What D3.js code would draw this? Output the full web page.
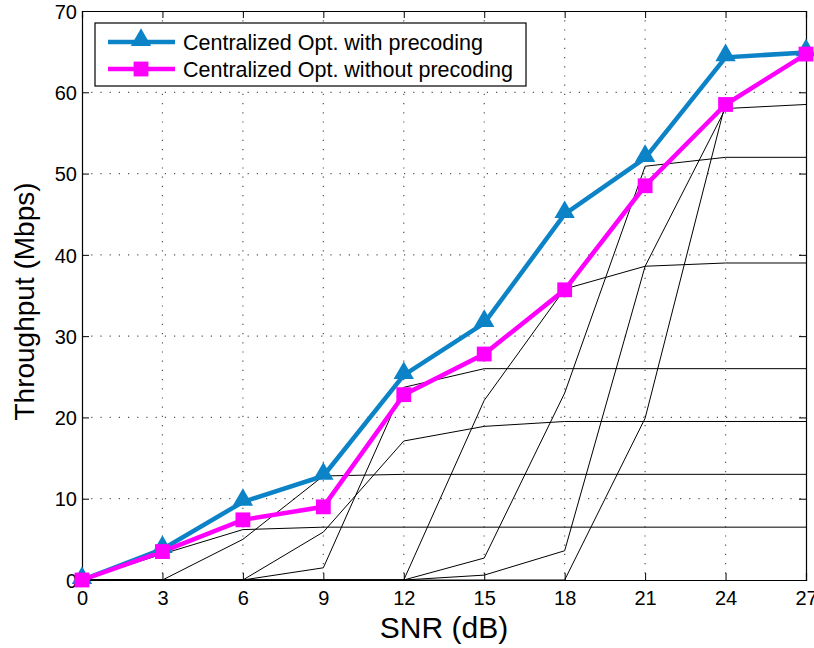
<!DOCTYPE html>
<html>
<head>
<meta charset="utf-8">
<script src="https://cdn.jsdelivr.net/npm/d3@7"></script>
<style>
  body { margin: 0; background: #fff; }
  svg { display: block; font-family: "Liberation Sans", Arial, sans-serif; }
</style>
</head>
<body>
<div id="viz"></div>
<script>
// SNR points (dB)
var snr = [0, 3, 6, 9, 12, 15, 18, 21, 24, 27];

// main series
var withPrecoding    = [0, 3.8, 9.6, 12.8, 25.2, 31.6, 45.0, 51.9, 64.3, 64.9];
var withoutPrecoding = [0, 3.5, 7.4, 9.0, 22.8, 27.8, 35.7, 48.5, 58.5, 64.7];

// per-MCS throughput curves (thin black lines)
var mcs0 = [0, 3.2, 6.2, 6.5, 6.5, 6.5, 6.5, 6.5, 6.5, 6.5];
var mcs1 = [0, 0, 5.0, 12.8, 13, 13, 13, 13, 13, 13];
var mcs2 = [0, 0, 0, 5.9, 17.1, 18.9, 19.5, 19.5, 19.5, 19.5];
var mcs3 = [0, 0, 0, 1.5, 23.7, 26, 26, 26, 26, 26];
var mcs4 = [0, 0, 0, 0, 0, 22.1, 35.8, 38.6, 39, 39];
var mcs5 = [0, 0, 0, 0, 0, 2.7, 23.0, 50.9, 52, 52];
var mcs6 = [0, 0, 0, 0, 0, 0.6, 3.6, 38.6, 58.0, 58.5];
var mcs7 = [0, 0, 0, 0, 0, 0, 0, 19.9, 58.7, 64.8];

var xTicks = [0, 3, 6, 9, 12, 15, 18, 21, 24, 27];
var yTicks = [0, 10, 20, 30, 40, 50, 60, 70];
var legendLabels = ['Centralized Opt. with precoding', 'Centralized Opt. without precoding'];

var width = 814,
    height = 648,
    padL = 82,
    padR = 806,
    padT = 11,
    padB = 580,
    blue = '#0b83c6',
    pink = '#ff00ff';

var x = d3.scaleLinear().domain([0, 27]).range([padL, padR]);
var y = d3.scaleLinear().domain([0, 70]).range([padB, padT]);

var svg = d3.select('#viz').append('svg')
    .attr('width', width)
    .attr('height', height);

// dotted grid
svg.append('g').selectAll('line').data(xTicks.slice(1, -1))
    .enter().append('line')
    .attr('x1', function(d){ return x(d); })
    .attr('x2', function(d){ return x(d); })
    .attr('y1', padT).attr('y2', padB)
    .attr('stroke', '#555').attr('stroke-width', 1.2)
    .attr('stroke-dasharray', '1.2,8');
svg.append('g').selectAll('line').data(yTicks.slice(1, -1))
    .enter().append('line')
    .attr('y1', function(d){ return y(d); })
    .attr('y2', function(d){ return y(d); })
    .attr('x1', padL).attr('x2', padR)
    .attr('stroke', '#555').attr('stroke-width', 1.2)
    .attr('stroke-dasharray', '1.2,8');

// axes (ticks inward, MATLAB style)
var xAxis = svg.append('g')
    .attr('transform', 'translate(0,' + padB + ')')
    .call(d3.axisBottom(x).tickValues(xTicks).tickSize(-7).tickPadding(11));
var xAxisTop = svg.append('g')
    .attr('transform', 'translate(0,' + padT + ')')
    .call(d3.axisTop(x).tickValues(xTicks).tickSize(-7).tickFormat(''));
var yAxis = svg.append('g')
    .attr('transform', 'translate(' + padL + ',0)')
    .call(d3.axisLeft(y).tickValues(yTicks).tickSize(-7).tickPadding(5));
var yAxisRight = svg.append('g')
    .attr('transform', 'translate(' + padR + ',0)')
    .call(d3.axisRight(y).tickValues(yTicks).tickSize(-7).tickFormat(''));

[xAxis, xAxisTop, yAxis, yAxisRight].forEach(function(g){
    g.selectAll('path').attr('stroke', '#000').attr('stroke-width', 1.2);
    g.selectAll('line').attr('stroke', '#000');
    g.selectAll('text').attr('fill', '#000').style('font-size', '20px')
        .style('font-family', '"Liberation Sans", Arial, sans-serif');
});
xAxis.selectAll('text').attr('dy', '0.71em');
yAxis.selectAll('text').attr('dy', '0.36em');

// thin MCS curves
var line = d3.line()
    .x(function(d, i){ return x(snr[i]); })
    .y(function(d){ return y(d); });

svg.append('g').selectAll('path')
    .data([mcs0, mcs1, mcs2, mcs3, mcs4, mcs5, mcs6, mcs7])
    .enter().append('path')
    .attr('d', line)
    .attr('fill', 'none')
    .attr('stroke', '#000')
    .attr('stroke-width', 1);

// main series
svg.append('path').datum(withPrecoding)
    .attr('d', line)
    .attr('fill', 'none')
    .attr('stroke', blue)
    .attr('stroke-width', 4.5);
svg.append('path').datum(withoutPrecoding)
    .attr('d', line)
    .attr('fill', 'none')
    .attr('stroke', pink)
    .attr('stroke-width', 4.5);

var tri = d3.symbol().type(d3.symbolTriangle).size(180);
var sq = d3.symbol().type(d3.symbolSquare).size(220);

svg.append('g').selectAll('path').data(withPrecoding)
    .enter().append('path')
    .attr('d', tri)
    .attr('transform', function(d, i){ return 'translate(' + x(snr[i]) + ',' + (y(d) - 2) + ')'; })
    .attr('fill', blue);
svg.append('g').selectAll('path').data(withoutPrecoding)
    .enter().append('path')
    .attr('d', sq)
    .attr('transform', function(d, i){ return 'translate(' + x(snr[i]) + ',' + y(d) + ')'; })
    .attr('fill', pink);

// legend
var legend = svg.append('g');
legend.append('rect')
    .attr('x', 95).attr('y', 23)
    .attr('width', 431).attr('height', 63)
    .attr('fill', '#fff')
    .attr('stroke', '#000')
    .attr('stroke-width', 1.2);

var legendItems = legend.selectAll('g.item')
    .data(legendLabels)
    .enter().append('g')
    .attr('class', 'item')
    .attr('transform', function(d, i){ return 'translate(0,' + (42 + i * 27) + ')'; });

legendItems.append('line')
    .attr('x1', 108).attr('x2', 175)
    .attr('y1', 0).attr('y2', 0)
    .attr('stroke', function(d, i){ return i === 0 ? blue : pink; })
    .attr('stroke-width', 4.5);
legendItems.append('path')
    .attr('d', function(d, i){ return i === 0 ? tri() : sq(); })
    .attr('transform', function(d, i){ return 'translate(141,' + (i === 0 ? -2 : 0) + ')'; })
    .attr('fill', function(d, i){ return i === 0 ? blue : pink; });
legendItems.append('text')
    .attr('x', 183)
    .attr('dy', '0.36em')
    .style('font-size', '21.5px')
    .attr('fill', '#000')
    .text(function(d){ return d; });

// axis titles
svg.append('text')
    .attr('x', (padL + padR) / 2)
    .attr('y', 638)
    .attr('text-anchor', 'middle')
    .style('font-size', '30px')
    .text('SNR (dB)');
svg.append('text')
    .attr('transform', 'translate(34,' + ((padT + padB) / 2 + 6) + ') rotate(-90)')
    .attr('text-anchor', 'middle')
    .style('font-size', '28px')
    .text('Throughput (Mbps)');
</script>
</body>
</html>
